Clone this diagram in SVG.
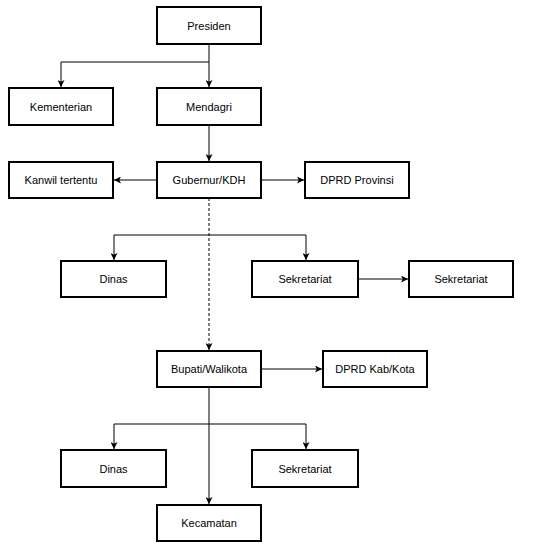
<svg xmlns="http://www.w3.org/2000/svg" width="544" height="548" viewBox="0 0 544 548">
<style>
.box{fill:#fff;stroke:#000;stroke-width:2}
.lbl{font-family:"Liberation Sans",Arial,sans-serif;font-size:11px;fill:#000;text-anchor:middle;dominant-baseline:central}
.ln{fill:none;stroke:#000;stroke-width:1}
.dash{stroke-dasharray:3 2}
</style>
<defs>
<marker id="ah" viewBox="0 0 10 10" refX="10" refY="5" markerWidth="7" markerHeight="7" markerUnits="userSpaceOnUse" orient="auto">
<path d="M0,0 L10,5 L0,10 L2.5,5 z" fill="#000"/>
</marker>
</defs>
<rect width="544" height="548" fill="#fff"/>
<g id="connectors">
<path class="ln" d="M209,44 V87" marker-end="url(#ah)"/>
<path class="ln" d="M209,62 H61 V87" marker-end="url(#ah)"/>
<path class="ln" d="M209,125 V161" marker-end="url(#ah)"/>
<path class="ln" d="M157,180 H114" marker-end="url(#ah)"/>
<path class="ln" d="M261,180 H304" marker-end="url(#ah)"/>
<path class="ln dash" d="M209,198 V350" marker-end="url(#ah)"/>
<path class="ln" d="M209,235 H114 V260" marker-end="url(#ah)"/>
<path class="ln" d="M209,235 H306 V260" marker-end="url(#ah)"/>
<path class="ln" d="M358,279 H408" marker-end="url(#ah)"/>
<path class="ln" d="M261,369 H322" marker-end="url(#ah)"/>
<path class="ln" d="M209,387 V504" marker-end="url(#ah)"/>
<path class="ln" d="M209,424 H114 V449" marker-end="url(#ah)"/>
<path class="ln" d="M209,424 H306 V449" marker-end="url(#ah)"/>
</g>
<g id="presiden"><rect class="box" x="157" y="7" width="104" height="37"/><text class="lbl" x="209" y="25.5">Presiden</text></g>
<g id="kementerian"><rect class="box" x="9" y="88" width="104" height="37"/><text class="lbl" x="61" y="106.5">Kementerian</text></g>
<g id="mendagri"><rect class="box" x="157" y="88" width="104" height="37"/><text class="lbl" x="209" y="106.5">Mendagri</text></g>
<g id="kanwil"><rect class="box" x="9" y="162" width="104" height="36"/><text class="lbl" x="61" y="180">Kanwil tertentu</text></g>
<g id="gubernur"><rect class="box" x="157" y="162" width="104" height="36"/><text class="lbl" x="209" y="180">Gubernur/KDH</text></g>
<g id="dprd-provinsi"><rect class="box" x="305" y="162" width="104" height="36"/><text class="lbl" x="357" y="180">DPRD Provinsi</text></g>
<g id="dinas-prov"><rect class="box" x="61" y="261" width="105" height="36"/><text class="lbl" x="113.5" y="279">Dinas</text></g>
<g id="sekretariat-prov"><rect class="box" x="252" y="261" width="106" height="36"/><text class="lbl" x="305" y="279">Sekretariat</text></g>
<g id="sekretariat-dprd"><rect class="box" x="409" y="261" width="104" height="36"/><text class="lbl" x="461" y="279">Sekretariat</text></g>
<g id="bupati"><rect class="box" x="157" y="351" width="104" height="36"/><text class="lbl" x="209" y="369">Bupati/Walikota</text></g>
<g id="dprd-kab"><rect class="box" x="323" y="351" width="104" height="36"/><text class="lbl" x="375" y="369">DPRD Kab/Kota</text></g>
<g id="dinas-kab"><rect class="box" x="61" y="450" width="105" height="37"/><text class="lbl" x="113.5" y="468.5">Dinas</text></g>
<g id="sekretariat-kab"><rect class="box" x="252" y="450" width="106" height="37"/><text class="lbl" x="305" y="468.5">Sekretariat</text></g>
<g id="kecamatan"><rect class="box" x="157" y="505" width="104" height="36"/><text class="lbl" x="209" y="523">Kecamatan</text></g>
</svg>
